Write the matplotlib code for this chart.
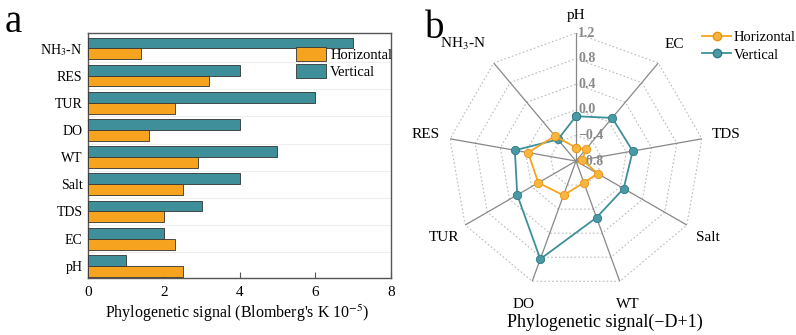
import numpy as np
import matplotlib
matplotlib.use("Agg")
import matplotlib.pyplot as plt
from matplotlib.lines import Line2D
from matplotlib.patches import Patch

plt.rcParams['font.family'] = ['Liberation Serif', 'DejaVu Serif']
plt.rcParams['mathtext.fontset'] = 'stix'

# ---- data ----
bar_labels = ['pH', 'EC', 'TDS', 'Salt', 'WT', 'DO', 'TUR', 'RES', r'NH$_3$-N']
bar_horizontal = [2.5, 2.3, 2.0, 2.5, 2.9, 1.6, 2.3, 3.2, 1.4]
bar_vertical = [1.0, 2.0, 3.0, 4.0, 5.0, 4.0, 6.0, 4.0, 7.0]

radar_labels = ['pH', 'EC', 'TDS', 'Salt', 'WT', 'DO', 'TUR', 'RES', r'NH$_3$-N']
radar_horizontal = [-0.59, -0.56, -0.70, -0.41, -0.44, -0.23, -0.12, -0.04, -0.29]
radar_vertical = [-0.10, 0.08, 0.10, 0.06, 0.14, 0.83, 0.26, 0.17, -0.36]
radar_ticks = [-0.8, -0.4, 0.0, 0.4, 0.8, 1.2]

c_orange = '#F6A41F'
c_teal = '#3F8F9B'

fig = plt.figure(figsize=(7.96, 3.35), dpi=100)

# ---- panel a: bars ----
ax = fig.add_axes([0.1106, 0.170, 0.3806, 0.731])
y = np.arange(len(bar_labels))
h = 0.4
ax.barh(y + h / 2, bar_vertical, height=h, color=c_teal, edgecolor='#333333', linewidth=0.6, zorder=3)
ax.barh(y - h / 2, bar_horizontal, height=h, color=c_orange, edgecolor='#333333', linewidth=0.6, zorder=3)
for b in y[:-1] + 0.5:
    ax.axhline(b, color='#eeeeee', lw=0.8, zorder=1)
ax.set_xlim(0, 8)
ax.set_ylim(-0.45, 8.56)
ax.set_xticks([0, 2, 4, 6, 8])
ax.set_yticks(y)
ax.set_yticklabels(bar_labels, fontsize=10)
ax.tick_params(axis='x', direction='in', length=4, labelsize=11, pad=6, color='#555555')
ax.tick_params(axis='y', length=0, pad=4)
for s in ax.spines.values():
    s.set_color('#555555')
    s.set_linewidth(1.0)
fig.text(0.298, 0.066, "Phylogenetic signal (Blomberg's K 10$^{-5}$)", fontsize=11.5,
         ha='center', va='center')
handles = [Patch(facecolor=c_orange, edgecolor='#333333', linewidth=0.6),
           Patch(facecolor=c_teal, edgecolor='#333333', linewidth=0.6)]
ax.legend(handles, ['Horizontal', 'Vertical'], loc='upper left', bbox_to_anchor=(0.686, 0.945),
          frameon=False, fontsize=10.5, borderpad=0, borderaxespad=0, handlelength=2.1,
          handleheight=1.1, handletextpad=0.25, labelspacing=0.15)
fig.text(0.006, 0.904, 'a', fontsize=28, va='baseline')

# ---- panel b: radar ----
n = len(radar_labels)
theta = np.arange(n) * 2 * np.pi / n
rax = fig.add_axes([0.5628, 0.1373, 0.3216, 0.764], projection='polar')
rax.set_theta_zero_location('N')
rax.set_theta_direction(-1)
rax.set_ylim(-0.8, 1.2)
rax.set_xticks([])
rax.set_yticks([])
rax.spines['polar'].set_visible(False)
rax.grid(False)
rax.patch.set_alpha(0)
tc = np.append(theta, theta[0])
for t in radar_ticks[1:]:
    rax.plot(tc, [t] * len(tc), color='#bbbbbb', lw=0.8, ls=(0, (1.5, 2)), zorder=1)
for t in theta:
    rax.plot([t, t], [-0.8, 1.2], color='#888888', lw=0.9, zorder=2)
for t in radar_ticks:
    rax.annotate(f'{t:.1f}'.replace('-', '\u2212'), xy=(0, t), xytext=(1.5, 0),
                 textcoords='offset points', ha='left', va='center', annotation_clip=False,
                 fontsize=10, fontweight='bold', color='#8a8a8a', zorder=3)
for t, lab in zip(theta, radar_labels):
    r = 1.48 if lab == 'pH' else 1.58
    ha = 'right' if lab.startswith('NH') else 'center'
    rax.annotate(lab, xy=(t, r), xytext=(6 if ha == 'right' else 0, 0),
                 textcoords='offset points', ha=ha, va='center', fontsize=11,
                 annotation_clip=False)
hv = np.append(radar_horizontal, radar_horizontal[0])
vv = np.append(radar_vertical, radar_vertical[0])
rax.plot(tc, hv, color=c_orange, lw=1.3, marker='o', ms=6, mfc='#F9B540', mec='#E8960F', mew=0.6, zorder=5)
rax.plot(tc, vv, color=c_teal, lw=1.3, marker='o', ms=6, mfc='#4A9AA6', mec='#2F7A86', mew=0.6, zorder=4)
fig.text(0.760, 0.039, 'Phylogenetic signal(\u2212D+1)', ha='center', va='center', fontsize=13)

lh = [Line2D([], [], color=c_orange, lw=1.3, marker='o', ms=6, mfc='#F9B540', mec='#E8960F'),
      Line2D([], [], color=c_teal, lw=1.3, marker='o', ms=6, mfc='#4A9AA6', mec='#2F7A86')]
fig.legend(lh, ['Horizontal', 'Vertical'], loc='upper left', bbox_to_anchor=(0.873, 0.93),
           frameon=False, fontsize=10.5, borderpad=0, handlelength=2.0, handletextpad=0.15,
           labelspacing=0.3)
fig.text(0.534, 0.887, 'b', fontsize=28, va='baseline')

fig.savefig('out.png', dpi=100)
